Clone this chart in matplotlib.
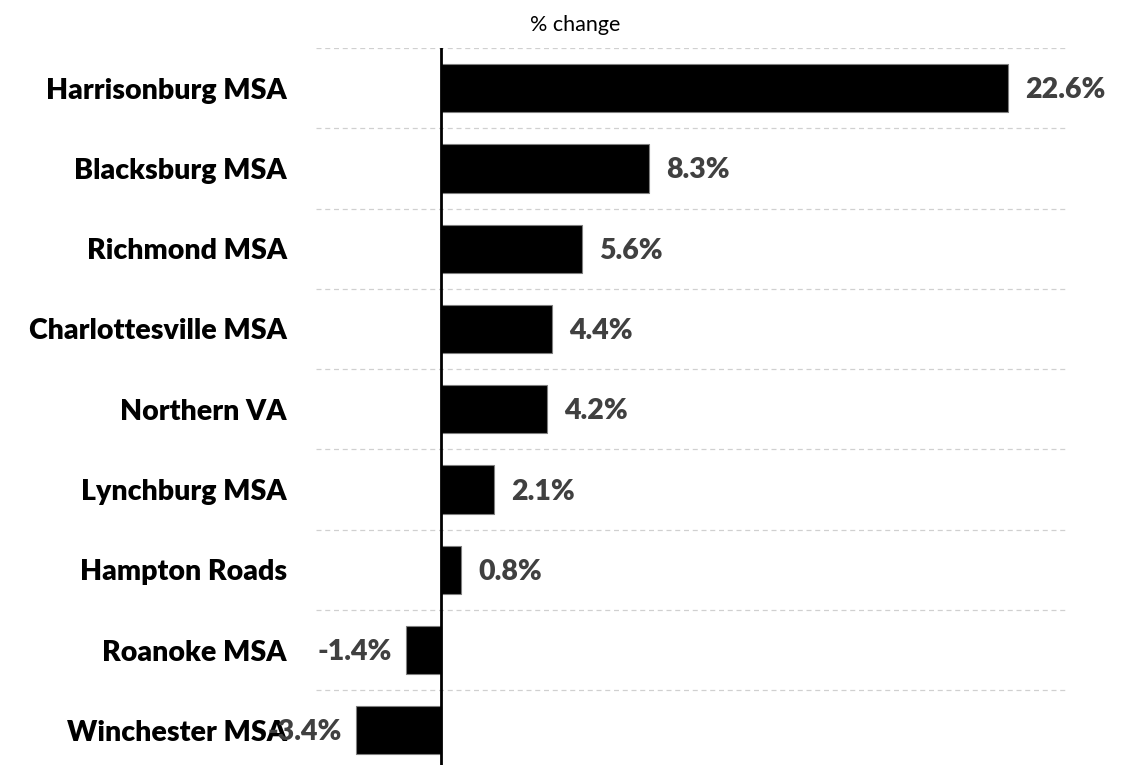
import matplotlib.pyplot as plt
import numpy as np

# data
regions = ["Harrisonburg MSA", "Blacksburg MSA", "Richmond MSA",
           "Charlottesville MSA", "Northern VA", "Lynchburg MSA",
           "Hampton Roads", "Roanoke MSA", "Winchester MSA"]
pct_change = [22.6, 8.3, 5.6, 4.4, 4.2, 2.1, 0.8, -1.4, -3.4]

plt.rcParams['font.family'] = ['Lato', 'DejaVu Sans']

fig = plt.figure(figsize=(11.44, 7.65), dpi=100)
ax = fig.add_axes([316/1144, 1 - 770.5/765, (1068-316)/1144, (770.5-48)/765])

y = np.arange(len(regions))
ax.barh(y, pct_change, height=0.6, color='black', edgecolor='#7f7f7f', linewidth=0.8, zorder=3)

# dashed separators between categories
for b in np.arange(-0.5, len(regions) - 0.5, 1.0):
  ax.axhline(b, color='#d0d0d0', linestyle=(0, (4, 3)), linewidth=0.9, zorder=1)
ax.axvline(0, color='black', linewidth=2, zorder=4)

ax.set_xlim(-5, 25)
ax.set_ylim(len(regions) - 0.5, -0.5)
ax.set_yticks(y)
ax.set_yticklabels(regions, fontsize=20.5, fontweight='heavy')
ax.tick_params(axis='y', length=0, pad=21)
ax.set_xticks([])
for s in ax.spines.values():
  s.set_visible(False)

for yi, v in zip(y, pct_change):
  if v >= 0:
    ax.annotate(f"{v:.1f}%", (v, yi), xytext=(17, -2), textcoords='offset pixels',
                ha='left', va='center', fontsize=20.5, fontweight='heavy', color='#404040')
  else:
    ax.annotate(f"{v:.1f}%", (v, yi), xytext=(-14, -2), textcoords='offset pixels',
                ha='right', va='center', fontsize=20.5, fontweight='heavy', color='#404040')

fig.text(575/1144, 1 - 25/765, "% change", ha='center', va='center', fontsize=15.5)

fig.savefig("out.png", dpi=100)
